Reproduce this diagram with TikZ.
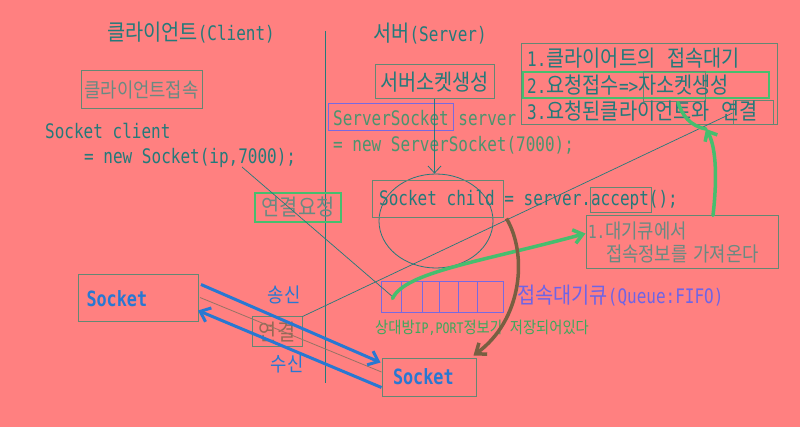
\documentclass[tikz,border=0pt]{standalone}
\usepackage{fontspec}
\setmainfont{DejaVu Sans Mono}[FakeStretch=0.8]
\newfontfamily\krfont{Noto Sans CJK KR}[Scale=1.12,FakeStretch=0.88]
\newcommand\kr[1]{{\krfont #1}}
\usetikzlibrary{arrows.meta,shapes.geometric,calc}
\definecolor{bgc}{RGB}{255,128,128}
\definecolor{tealc}{RGB}{35,122,122}
\definecolor{boxc}{RGB}{100,135,115}
\definecolor{greyt}{RGB}{105,138,130}
\definecolor{sgreen}{RGB}{75,148,110}
\definecolor{purpc}{RGB}{120,105,225}
\definecolor{purpt}{RGB}{110,100,230}
\definecolor{gline}{RGB}{70,190,110}
\definecolor{lgreen}{RGB}{60,168,92}
\definecolor{brownc}{RGB}{120,95,65}
\definecolor{bluec}{RGB}{40,120,210}
\definecolor{lkt}{RGB}{150,105,85}
\definecolor{thinbr}{RGB}{150,115,100}
\tikzset{
  txt/.style={inner sep=0pt, text=tealc, font=\fontsize{20}{24}\selectfont},
  box/.style={draw=boxc, line width=1pt, inner sep=0pt},
  barb/.style={-{Straight Barb[length=9pt,width=15pt]}},
  bluearrow/.style={draw=bluec, line width=3pt, barb},
  greenstroke/.style={draw=gline, line width=3.5pt, line cap=round},
  thinline/.style={draw=tealc, line width=0.7pt},
}
\begin{document}
\begin{tikzpicture}[x=1pt,y=-1pt]
\fill[bgc] (0,0) rectangle (800,427);
\useasboundingbox (0,0) rectangle (800,427);

% titles and divider
\node[txt] (tc) at (191,33) {\kr{클라이언트}(Client)};
\node[txt] (ts) at (430,34) {\kr{서버}(Server)};
\coordinate (vt) at (325,31);
\coordinate (vb) at (325,383);
\draw[tealc, line width=1pt] (vt) -- (vb);

% client side
\node[box, txt, text=greyt, font=\fontsize{18}{20}\selectfont, minimum width=121pt, minimum height=38pt] (cc) at (141.5,90) {\kr{클라이언트접속}};
\node[txt, anchor=west] (sc1) at (45,131) {Socket client};
\node[txt, anchor=west] (sc2) at (84,158) {= new Socket(ip,7000);};

% server side
\node[box, txt, minimum width=119pt, minimum height=34pt] (ss) at (434.5,82) {\kr{서버소켓생성}};
\node[box, draw=purpc, minimum width=125pt, minimum height=27pt] (ssb) at (390.5,117.5) {};
\node[txt, text=sgreen, anchor=west] (st1) at (333,118) {ServerSocket server};
\node[txt, text=sgreen, anchor=west] (st2) at (333,145) {= new ServerSocket(7000);};

\node[draw=tealc, line width=0.8pt, ellipse, minimum width=114pt, minimum height=94pt, inner sep=0pt] (cir) at (436,221) {};
\draw[tealc, line width=0.8pt, -{Straight Barb[length=7pt,width=13pt]}] (ss.south) -- (ss.south |- cir.north);

\node[box, minimum width=131pt, minimum height=37pt] (scb) at (437.5,199.5) {};
\node[txt, anchor=west] (sct) at (379,200) {Socket child = server.accept();};
\node[box, minimum width=61pt, minimum height=25pt] (acb) at (621,200) {};

\node[box, txt, text=greyt, font=\fontsize{18}{23}\selectfont, minimum width=192pt, minimum height=53pt, text width=188pt, inner xsep=2pt, align=left] (wq) at (682,242.5) {1.\kr{대기큐에서}\\\hspace*{18pt}\kr{접속정보를} \kr{가져온다}};

% queue
\node[draw=purpc, line width=1pt, minimum width=122pt, minimum height=31pt, inner sep=0pt] (q) at (442,297.5) {};
\foreach \x in {401,422,439,458,477} \draw[purpc, line width=1pt] (\x,282) -- (\x,313);
\node[txt, text=purpt, anchor=west] (qt) at (517,296) {\kr{접속대기큐}(Queue:FIFO)};
\node[txt, text=lgreen, font=\fontsize{14.5}{16}\selectfont, anchor=west] (qi) at (375,328) {\kr{상대방}IP,PORT\kr{정보가} \kr{저장되어있다}};

% sockets
\node[box, minimum width=120pt, minimum height=47pt, text width=104pt, inner xsep=8pt, align=left, text=bluec, font=\fontsize{21}{24}\bfseries] (ls) at (138.5,298.5) {Socket};
\node[box, minimum width=94pt, minimum height=38pt, text width=72pt, inner xsep=11pt, align=left, text=bluec, font=\fontsize{21}{24}\bfseries] (bs) at (429,377) {Socket};

\node[txt, text=bluec, font=\fontsize{18}{22}\selectfont] (tx) at (284,295) {\kr{송신}};
\node[txt, text=bluec, font=\fontsize{18}{22}\selectfont] (rx) at (287,364) {\kr{수신}};
\node[box, txt, text=lkt, minimum width=50pt, minimum height=30pt] (lk) at (277,332) {\kr{연결}};
\node[box, draw=gline, line width=2.5pt, txt, text=greyt, minimum width=86pt, minimum height=29pt] (rq) at (298,207.5) {\kr{연결요청}};

% top right steps
\node[box, minimum width=256pt, minimum height=81pt] (tr) at (649,84.5) {};
\node[box, draw=gline, line width=2.5pt, minimum width=246pt, minimum height=26pt] (g2b) at (646,85) {};
\node[box, minimum width=62pt, minimum height=30pt] (jb) at (674,87) {};
\node[box, minimum width=40pt, minimum height=24pt] (tl) at (753,113) {};
\node[txt, anchor=west] (s1) at (527,58) {1.\kr{클라이어트의}\hspace{12pt}\kr{접속대기}};
\node[txt, anchor=west] (s2) at (527,85) {2.\kr{요청접수}=>\kr{자소켓생성}};
\node[txt, anchor=west] (s3) at (527,111) {3.\kr{요청된클라이언트와}\hspace{12pt}\kr{연결}};

% thin connectors
\coordinate (l1s) at (242,167);
\coordinate (l1e) at ($(q.west)+(13,0)$);
\draw[thinline] (l1s) -- (l1e);
\draw[thinline] (lk.north east) -- (tl.west);
\draw[draw=thinbr, line width=0.8pt] ($(ls.east)+(1,-1)$) -- ($(bs.west)+(0,-5)$);

% blue send / receive
\draw[bluearrow] ($(ls.north east)+(2,10)$) -- ($(bs.north west)+(-1,5)$);
\draw[bluearrow] ($(bs.south west)+(0,-9)$) -- ($(ls.east)+(-1,12)$);

% green strokes
\coordinate (g1s) at ($(q.west)+(12,1)$);
\draw[greenstroke, -{Straight Barb[length=9pt,width=14pt]}] (g1s) .. controls (405,272) and (480,262) .. ($(wq.west)+(0,-9)$);
\coordinate (kink) at (706,129);
\draw[greenstroke, -{Straight Barb[length=8pt,width=14pt]}] ($(wq.north)+(31,0)$) .. controls (718,172) and (715,145) .. (kink);
\draw[greenstroke] (kink) .. controls (690,126) and (682,115) .. ($(jb.south)+(4,0)$);

% brown accept arrow
\draw[brownc, line width=3.5pt, -{Straight Barb[length=9pt,width=14pt]}] ($(scb.south east)+(3,0)$) .. controls (528,255) and (522,320) .. ($(bs.north east)+(-3,-2)$);
\end{tikzpicture}
\end{document}
